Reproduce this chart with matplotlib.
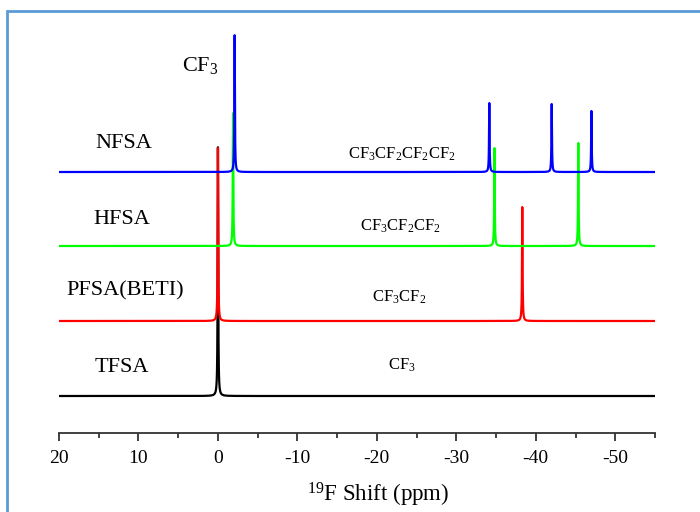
import numpy as np
import matplotlib
matplotlib.use('Agg')
from matplotlib import pyplot as plt
from matplotlib.patches import Rectangle

plt.rcParams['font.family'] = ['Liberation Serif', 'DejaVu Serif']
plt.rcParams['mathtext.fontset'] = 'custom'
plt.rcParams['mathtext.rm'] = 'Liberation Serif'
plt.rcParams['mathtext.default'] = 'regular'
plt.rcParams['axes.unicode_minus'] = False

# samples (bottom to top) and their colours
samples = ['TFSA', 'PFSA(BETI)', 'HFSA', 'NFSA']
colors = ['black', '#ff0000', '#00ff00', '#0000ff']
groups = [r'CF$_3$', r'CF$_3$CF$_2$', r'CF$_3$CF$_2$CF$_2$', r'CF$_3$CF$_2$CF$_2$CF$_2$']

# baseline offsets (arb. units) for the stacked spectra
offsets = [37, 112, 187, 261]

# peak positions (ppm) and heights (arb. units)
peak_ppm = [
	[0.0],
	[0.0, -38.3],
	[-1.9, -34.8, -45.35],
	[-2.1, -34.15, -42.0, -47.0],
]
peak_height = [
	[249],
	[173, 114],
	[133, 98, 103],
	[137, 69, 68, 61],
]

ppm = np.linspace(20, -55, 15000)
hwhm = 0.04

fig = plt.figure(figsize=(7, 5.12), dpi=100)
ax = fig.add_axes([59/700, 79/512, 596/700, 413/512])

for ii in range(len(samples)):
	yy = np.full_like(ppm, offsets[ii], dtype=float)
	for pp, hh in zip(peak_ppm[ii], peak_height[ii]):
		yy += hh * hwhm**2 / ((ppm - pp)**2 + hwhm**2)
	ax.plot(ppm, yy, color=colors[ii], lw=1.6, zorder=2+ii)

ax.set_xlim(20, -55)
ax.set_ylim(0, 413)
for side in ['left', 'right', 'top']:
	ax.spines[side].set_visible(False)
ax.spines['bottom'].set_color('#333333')
ax.spines['bottom'].set_linewidth(1.3)
ax.set_yticks([])
ax.set_xticks(np.arange(20, -51, -10))
ax.set_xticks(np.arange(15, -56, -10), minor=True)
ax.tick_params(axis='x', which='major', direction='out', length=6, width=1.3, color='#333333', labelsize=14, pad=6)
ax.tick_params(axis='x', which='minor', direction='out', length=3.5, width=1.3, color='#333333')

fig.text(378/700, 1 - 495/512, r'$^{19}$F Shift (ppm)', fontsize=16.5, ha='center', va='center')

# sample names
name_pos = [(122, 367), (125, 291), (122, 219), (124, 143)]
for name, (px, py) in zip(samples, name_pos):
	fig.text(px/700, 1 - py/512, name, fontsize=16, ha='center', va='center')

# group labels
group_pos = [(402, 365), (399, 297), (401, 226), (402, 154)]
for gg, (px, py) in zip(groups, group_pos):
	fig.text(px/700, 1 - py/512, gg, fontsize=12, ha='center', va='center')

fig.text(200/700, 1 - 65/512, r'CF$_3$', fontsize=16, ha='center', va='center')

# light blue frame around the figure
fig.add_artist(Rectangle((7/700, -0.2), 1.2, 1.2 - 11/512, transform=fig.transFigure,
	fill=False, edgecolor='#5b9bd5', lw=2))

fig.savefig('out.png', dpi=100)
